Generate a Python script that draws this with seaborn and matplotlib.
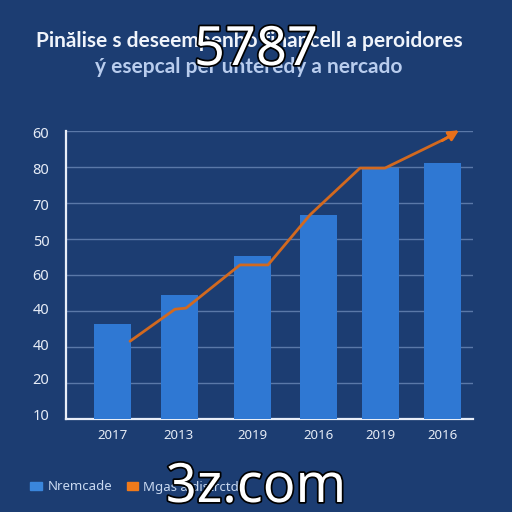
import matplotlib
matplotlib.use("Agg")
import matplotlib.pyplot as plt
import matplotlib.patheffects as pe
from matplotlib.patches import Rectangle
from matplotlib.transforms import ScaledTranslation
import pandas as pd
import seaborn as sns

# Data
years = ["2017", "2013", "2019", "2016", "2019", "2016"]
bar_x = [112, 179, 252, 318, 380, 442]
bar_values = [2.64, 3.44, 4.53, 5.67, 6.97, 7.11]
line_x = [130, 175, 186, 240, 268, 310, 360, 385, 450]
line_values = [2.16, 3.05, 3.08, 4.28, 4.28, 5.67, 6.97, 6.97, 7.85]
arrow_tip_x = [459]
arrow_tip_value = [8.02]
y_positions = [0, 1, 2, 3, 4, 5, 6, 7, 8]
y_labels = ["10", "20", "40", "40", "60", "50", "70", "80", "60"]
y_label_nudge_px = [2, 2, 1, 0, -2, -3, -3, -3, -4]
title_line1 = "Pinălise s deseempenho financell a peroidores"
title_line2 = "ý esepcal per unteredy a nercado"
legend_bar = "Nremcade"
legend_line = "Mgas a distrctdo"
watermark_top = "5787"
watermark_bottom = "3z.com"

BG = "#1c3d72"
BAR = "#2f78d3"
LINE = "#d2691f"
AXIS = "#e8eef8"
GRID = "#5a78a8"
TEXT = "#e6ecf6"

sns.set_theme(style="dark")
fig = plt.figure(figsize=(5.12, 5.12), dpi=100, facecolor=BG)
ax = fig.add_axes([66 / 512, 1 - 419 / 512, (473 - 66) / 512, (419 - 131) / 512], facecolor=BG)

bars = pd.DataFrame({"x": bar_x, "value": bar_values})
sns.barplot(data=bars, x="x", y="value", native_scale=True, color=BAR,
            saturation=1, width=37 / 62, linewidth=0, edgecolor="none", ax=ax, zorder=3)
lines = pd.DataFrame({"x": line_x, "value": line_values})
sns.lineplot(data=lines, x="x", y="value", sort=False, estimator=None, color=LINE,
             linewidth=2.0, ax=ax, zorder=4)
ax.annotate("", xy=(arrow_tip_x[0], arrow_tip_value[0]),
            xytext=(line_x[-1] - 8, line_values[-1] - 0.12),
            arrowprops=dict(arrowstyle="-|>", color="#e8701a", lw=2.0, mutation_scale=15,
                            shrinkA=0, shrinkB=0),
            zorder=5, annotation_clip=False)

ax.set_xlim(66, 473)
ax.set_ylim(0, 8)
ax.set_xlabel("")
ax.set_ylabel("")
ax.set_xticks(bar_x, years, color=TEXT, fontsize=9.5, fontfamily="Noto Sans")
ax.set_yticks(y_positions, y_labels, color=TEXT, fontsize=10.5, fontfamily="Noto Sans")
ax.tick_params(axis="x", length=0, pad=7)
ax.tick_params(axis="y", length=0, pad=12)
for lab, dy in zip(ax.get_yticklabels(), y_label_nudge_px):
    lab.set_verticalalignment("center")
    lab.set_transform(lab.get_transform() + ScaledTranslation(0, dy / 100, fig.dpi_scale_trans))
ax.grid(axis="y", color=GRID, linewidth=1, zorder=1)
ax.grid(axis="x", visible=False)
ax.set_axisbelow(True)
for s in ("top", "right"):
    ax.spines[s].set_visible(False)
for s in ("left", "bottom"):
    ax.spines[s].set_visible(True)
    ax.spines[s].set_color(AXIS)
    ax.spines[s].set_linewidth(1.6)

# Titles
fig.text(249 / 512, 1 - 41 / 512, title_line1, ha="center", va="center",
         color="#f0f4fb", fontsize=15, fontweight="bold", fontfamily="Lato")
fig.text(249 / 512, 1 - 67 / 512, title_line2, ha="center", va="center",
         color="#b9cdee", fontsize=15, fontweight="bold", fontfamily="Lato")

# Legend
fig.add_artist(Rectangle((30 / 512, 1 - 490 / 512), 12 / 512, 8 / 512,
                         transform=fig.transFigure, color="#3a86dc"))
fig.text(48 / 512, 1 - 487 / 512, legend_bar, va="center", color="#c8d8f0",
         fontsize=9.5, fontfamily="Noto Sans")
fig.add_artist(Rectangle((127 / 512, 1 - 490 / 512), 11 / 512, 8 / 512,
                         transform=fig.transFigure, color="#f07a1a"))
fig.text(143 / 512, 1 - 487 / 512, legend_line, va="center", color="#c8d8f0",
         fontsize=9.5, fontfamily="Noto Sans")

# Watermarks
for txt, y in ((watermark_top, 65), (watermark_bottom, 502)):
    fig.text(256 / 512, 1 - y / 512, txt, ha="center", va="baseline", color="white",
             fontsize=39, fontfamily="Noto Sans", zorder=20,
             path_effects=[pe.withStroke(linewidth=2.5, foreground="black")])

fig.savefig("out.png", dpi=100, facecolor=BG)
